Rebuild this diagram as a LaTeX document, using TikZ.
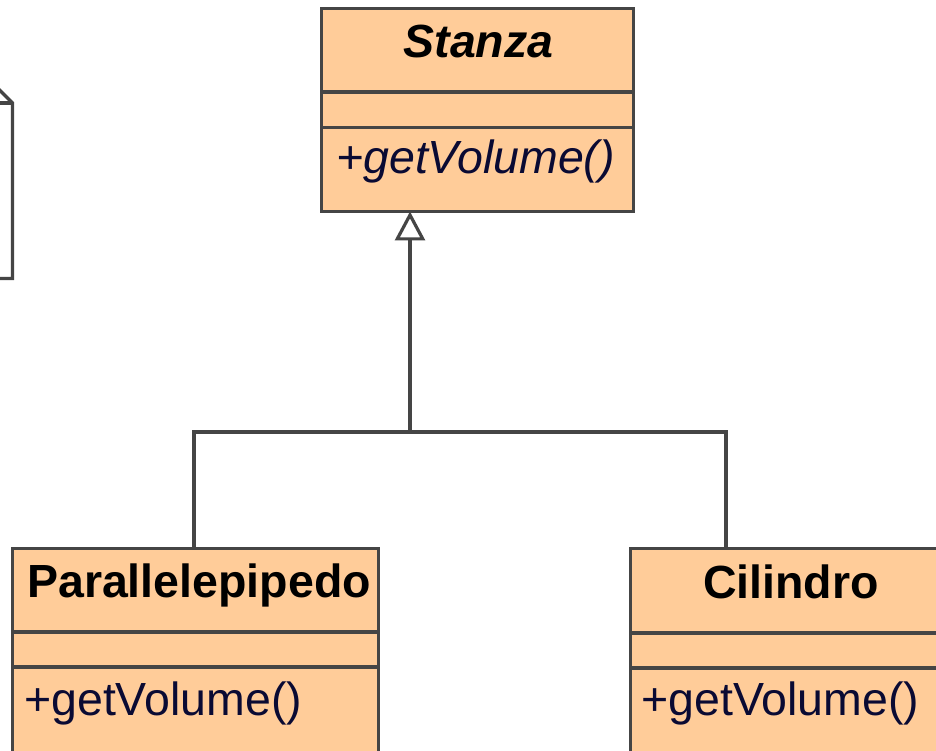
\documentclass[tikz,border=0pt]{standalone}
\usepackage{fontspec}
\setmainfont{Liberation Sans}
\usetikzlibrary{arrows.meta}

\definecolor{classfill}{HTML}{FFCC99}
\definecolor{umlline}{HTML}{454545}
\definecolor{optext}{HTML}{0A0A33}

\tikzset{
  umlbox/.style={draw=umlline, line width=3.2pt, fill=classfill, rectangle,
    inner sep=0pt, outer sep=0pt, anchor=north west},
  divider/.style={draw=umlline, line width=3.2pt},
  conn/.style={draw=umlline, line width=3.2pt},
  classname/.style={anchor=base, inner sep=0pt, text=black,
    font=\fontsize{46.5}{55}\selectfont\bfseries},
  opname/.style={anchor=base west, inner sep=0pt, text=optext,
    font=\fontsize{46.5}{55}\selectfont},
  generalization/.style={-{Triangle[open, length=29pt, width=30pt]}, fill=white}
}

\begin{document}
\begin{tikzpicture}[x=1pt, y=-1pt]
  \useasboundingbox (0,0) rectangle (936,751);
  \clip (0,0) rectangle (936,751);

  % partially visible note at the left border
  \draw[conn, fill=white] (-60,88) -- (-2.5,88) -- (12.5,103) -- (12.5,278.5) -- (-60,278.5);
  \draw[conn] (-2.5,88) -- (-2.5,103) -- (12.5,103);

  % abstract class Stanza
  \node[umlbox, minimum width=312pt, minimum height=203pt] (stanza) at (321.5,8.5) {};
  \draw[divider] (321.5,92) -- (633.5,92);
  \draw[divider] (321.5,127.5) -- (633.5,127.5);
  \node[classname, font=\fontsize{46.5}{55}\selectfont\bfseries\itshape] (stanzaName) at (478.5,58) {Stanza};
  \node[opname, font=\fontsize{46.5}{55}\selectfont\itshape] (stanzaOps) at (336,174) {+getVolume()};

  % class Parallelepipedo
  \node[umlbox, minimum width=366pt, minimum height=260pt] (parallel) at (12.5,548.5) {};
  \draw[divider] (12.5,632) -- (378.5,632);
  \draw[divider] (12.5,667) -- (378.5,667);
  \node[classname] (parallelName) at (199,597) {Parallelepipedo};
  \node[opname] (parallelOps) at (24,715) {+getVolume()};

  % class Cilindro
  \node[umlbox, minimum width=321.5pt, minimum height=260pt] (cilindro) at (630.5,548.5) {};
  \draw[divider] (630.5,633) -- (960,633);
  \draw[divider] (630.5,668) -- (960,668);
  \node[classname] (cilindroName) at (791,598) {Cilindro};
  \node[opname] (cilindroOps) at (641,715) {+getVolume()};

  % generalization tree
  \coordinate (junction) at (410,432);
  \coordinate (leftDrop) at (194,432);
  \coordinate (rightDrop) at (726,432);
  \draw[conn] (leftDrop |- parallel.north) -- (leftDrop) -- (rightDrop) -- (rightDrop |- cilindro.north);
  \draw[conn, generalization] (junction) -- (junction |- stanza.south);
\end{tikzpicture}
\end{document}
